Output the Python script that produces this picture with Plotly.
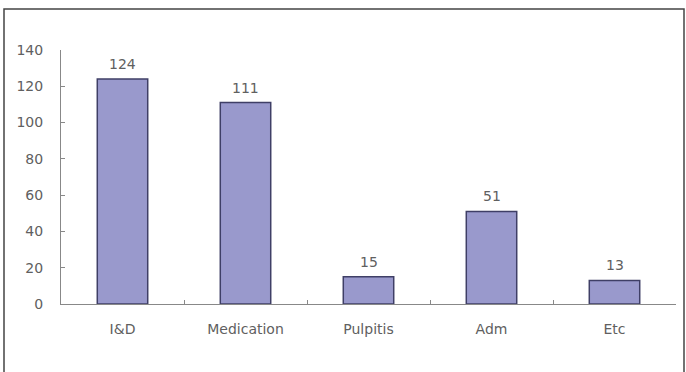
import plotly.graph_objects as go

categories = ["I&D", "Medication", "Pulpitis", "Adm", "Etc"]
values = [124, 111, 15, 51, 13]
y_ticks = [0, 20, 40, 60, 80, 100, 120, 140]

W, H = 686, 372
L, R, T, B = 61, 10, 50, 68
pw, ph = W - L - R, H - T - B

def px_x(x):
    return (x - L) / pw

def px_y(y):
    return (H - B - y) / ph

FONT = "DejaVu Sans, Verdana, sans-serif"
TXT = "#606060"

fig = go.Figure(go.Bar(
    x=categories, y=values,
    marker=dict(color="#9999CC", line=dict(color="#3f3f66", width=1.5)),
))

for c, v in zip(categories, values):
    fig.add_annotation(x=c, y=v, text=str(v), showarrow=False,
                       yanchor="bottom", yshift=5,
                       font=dict(family=FONT, size=14, color=TXT))

fig.update_layout(
    width=W, height=H,
    margin=dict(l=L, r=R, t=T, b=B),
    paper_bgcolor="white", plot_bgcolor="white",
    bargap=0.59,
    showlegend=False,
    font=dict(family=FONT, size=14, color=TXT),
    shapes=[dict(type="rect", xref="paper", yref="paper",
                 x0=px_x(4), x1=px_x(684), y0=px_y(385), y1=px_y(9),
                 line=dict(color="#444444", width=1.5), layer="below")],
)
fig.update_xaxes(
    showline=True, linecolor="#888888", linewidth=1,
    ticks="inside", ticklen=4, tickcolor="#888888", tickson="boundaries",
    showgrid=False, ticklabelstandoff=12,
    tickfont=dict(family=FONT, size=14, color=TXT),
)
fig.update_yaxes(
    range=[0, 140], tickvals=y_ticks,
    showline=True, linecolor="#888888", linewidth=1,
    ticks="inside", ticklen=4, tickcolor="#888888",
    showgrid=False, zeroline=False, ticklabelstandoff=14,
    tickfont=dict(family=FONT, size=14, color=TXT),
)

fig.write_html("out.html")
